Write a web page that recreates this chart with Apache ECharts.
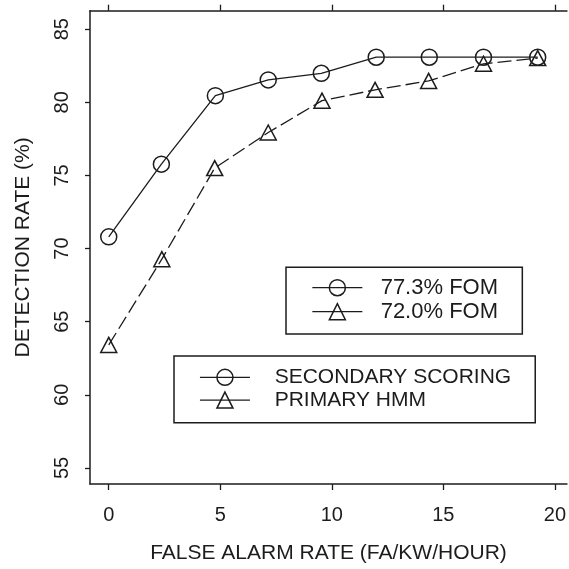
<!DOCTYPE html>
<html><head><meta charset="utf-8">
<script src="https://cdn.jsdelivr.net/npm/echarts@6/dist/echarts.min.js"></script>
<style>html,body{margin:0;padding:0;background:#fff}#c{width:569px;height:569px}</style>
</head><body><div id="c"></div>
<script>
// ---- data ----
const xTicks = [0, 5, 10, 15, 20];
const yTicks = [55, 60, 65, 70, 75, 80, 85];
const secondaryX = [0, 2.36, 4.78, 7.15, 9.53, 11.99, 14.37, 16.8, 19.23];
const secondaryY = [70.8, 75.77, 80.45, 81.53, 81.98, 83.08, 83.08, 83.08, 83.08];
const primaryX = [0, 2.38, 4.75, 7.15, 9.56, 11.94, 14.34, 16.8, 19.23];
const primaryY = [63.41, 69.27, 75.5, 77.93, 80.11, 80.85, 81.46, 82.63, 83.02];
const fomLabels = ['77.3% FOM', '72.0% FOM'];
const seriesNames = ['SECONDARY SCORING', 'PRIMARY HMM'];
const xTitle = 'FALSE ALARM RATE (FA/KW/HOUR)';
const yTitle = 'DETECTION RATE (%)';

// ---- style ----
const INK = '#1c1c1c';
const FONT = "'Liberation Sans', Arial, Helvetica, sans-serif";
const xMin = -0.84, xMax = 20.54, yMin = 53.9, yMax = 86.26;

const pairs = (xs, ys) => xs.map((x, i) => [x, ys[i]]);

const lineSeries = (name, data, symbol, dashed, size) => ({
  name, type: 'line', data, symbol, symbolSize: size,
  showSymbol: true,
  lineStyle: { color: INK, width: 1.3, type: dashed ? [14, 5] : 'solid' },
  itemStyle: { color: 'rgba(0,0,0,0)', borderColor: INK, borderWidth: 1.5 },
  emphasis: { disabled: true },
  animation: false,
  z: 3
});

const legendBase = {
  orient: 'vertical', selectedMode: false,
  itemWidth: 50, itemHeight: 20, itemGap: 0,
  borderColor: INK, borderWidth: 1.5,
  lineStyle: { type: 'solid', color: INK, width: 1.3 },
  itemStyle: { color: 'rgba(0,0,0,0)', borderColor: INK, borderWidth: 1.5 }
};

const option = {
  backgroundColor: '#fff',
  animation: false,
  grid: { left: 90, right: 0, top: 10.7, bottom: 79 },
  xAxis: [{
    type: 'value', position: 'bottom', min: xMin, max: xMax,
    axisLine: { show: true, onZero: false, lineStyle: { color: INK, width: 1.5 } },
    axisTick: { show: true, customValues: xTicks, length: 6, lineStyle: { color: INK, width: 1.3 } },
    axisLabel: { customValues: xTicks, margin: 21, fontSize: 20, color: INK, fontFamily: FONT },
    splitLine: { show: false },
    name: xTitle, nameLocation: 'middle', nameGap: 59,
    nameTextStyle: { fontSize: 21, color: INK, fontFamily: FONT }
  }, {
    type: 'value', position: 'top', min: xMin, max: xMax,
    axisLine: { show: true, onZero: false, lineStyle: { color: INK, width: 1.5 } },
    axisTick: { show: true, customValues: xTicks, length: 6, lineStyle: { color: INK, width: 1.3 } },
    axisLabel: { show: false },
    splitLine: { show: false }
  }],
  yAxis: [{
    type: 'value', position: 'left', min: yMin, max: yMax,
    axisLine: { show: true, onZero: false, lineStyle: { color: INK, width: 1.5 } },
    axisTick: { show: true, customValues: yTicks, length: 5, lineStyle: { color: INK, width: 1.3 } },
    axisLabel: { customValues: yTicks, rotate: 90, margin: 18, fontSize: 20, color: INK, fontFamily: FONT },
    splitLine: { show: false },
    name: yTitle, nameLocation: 'middle', nameRotate: 90, nameGap: 56,
    nameTextStyle: { fontSize: 21, color: INK, fontFamily: FONT }
  }],
  legend: [
    Object.assign({}, legendBase, {
      data: fomLabels, left: 286, top: 267.3,
      padding: [8.4, 24.3, 10.3, 25.7],
      textStyle: { fontFamily: FONT, fontSize: 22, lineHeight: 24, color: INK, padding: [0, 0, 0, 13.3] }
    }),
    Object.assign({}, legendBase, {
      data: seriesNames, left: 174, top: 356,
      padding: [10, 24.1, 11.3, 25.3],
      textStyle: { fontFamily: FONT, fontSize: 21, lineHeight: 22.7, color: INK, padding: [0, 0, 0, 19.7] }
    })
  ],
  series: [
    lineSeries(seriesNames[0], pairs(secondaryX, secondaryY), 'circle', false, 16),
    lineSeries(seriesNames[1], pairs(primaryX, primaryY), 'triangle', true, [16, 15]),
    lineSeries(fomLabels[0], [], 'circle', false, 16),
    lineSeries(fomLabels[1], [], 'triangle', false, [16, 15])
  ]
};

const chart = echarts.init(document.getElementById('c'), null, { renderer: 'canvas' });
chart.setOption(option);
</script>
</body></html>
